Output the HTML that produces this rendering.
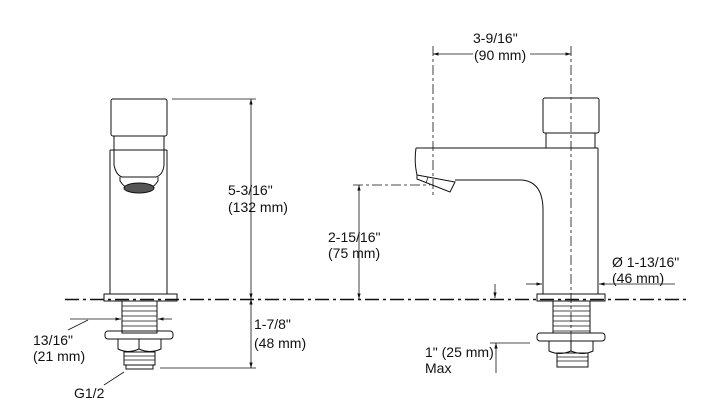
<!DOCTYPE html>
<html><head><meta charset="utf-8"><style>
html,body{margin:0;padding:0;background:#fff;}
svg{display:block;}
text{font-family:"Liberation Sans",Arial,sans-serif;font-size:14px;fill:#111;}
</style></head><body>
<svg width="722" height="409" viewBox="0 0 722 409" xmlns="http://www.w3.org/2000/svg">
<defs>
<marker id="a" viewBox="0 0 10 10" refX="10" refY="5" markerWidth="7" markerHeight="7" orient="auto-start-reverse"><path d="M0,2 L10,5 L0,8 z" fill="#111"/></marker>
</defs>
<g stroke="#111" fill="none" stroke-width="1">
<line x1="65" y1="299.5" x2="690" y2="299.5" stroke-width="1.6" stroke-dasharray="14,4,3,4"/>

<!-- LEFT FAUCET -->
<rect x="111" y="99" width="56" height="37" rx="2"/>
<rect x="114" y="136" width="50" height="14"/>
<line x1="110" y1="150" x2="110" y2="294"/>
<line x1="167" y1="150" x2="167" y2="294"/>
<path d="M110,150 L114,150 M164,150 L167,150"/>
<path d="M114,150 L114,165 Q116,175 122,177 L156,177 Q163,175 164,165 L164,150"/>
<path d="M120,177 L120,181 Q124,187 128,188 M158,177 L158,181 Q154,187 150,188"/>
<ellipse cx="139" cy="188" rx="15" ry="5" fill="#555"/>
<rect x="104" y="294" width="73" height="7"/>
<rect x="122" y="301" width="35" height="32"/>
<g stroke-width="0.7"><line x1="122" y1="306" x2="157" y2="306"/><line x1="122" y1="311" x2="157" y2="311"/><line x1="122" y1="316" x2="157" y2="316"/><line x1="122" y1="321" x2="157" y2="321"/><line x1="122" y1="326" x2="157" y2="326"/><line x1="122" y1="331" x2="157" y2="331"/></g>
<rect x="105" y="331" width="68" height="8" rx="3"/>
<path d="M118,339 L118,349 Q128,354 139,349 Q150,354 161,349 L161,339"/>
<line x1="139" y1="339" x2="139" y2="349"/>
<rect x="124" y="352" width="31" height="13"/>
<g stroke-width="0.7"><line x1="124" y1="356" x2="155" y2="356"/><line x1="124" y1="360" x2="155" y2="360"/></g>
<rect x="126" y="365" width="27" height="4"/>
<line x1="172" y1="99" x2="256" y2="99" stroke-width="0.8"/>
<line x1="160" y1="368" x2="256" y2="368" stroke-width="0.8"/>
<line x1="251" y1="99" x2="251" y2="299" stroke-width="0.8" marker-start="url(#a)" marker-end="url(#a)"/>
<line x1="251" y1="299" x2="251" y2="368" stroke-width="0.8" marker-start="url(#a)" marker-end="url(#a)"/>
<line x1="70" y1="319" x2="121" y2="319" stroke-width="0.8" marker-end="url(#a)"/>
<line x1="172" y1="319" x2="158" y2="319" stroke-width="0.8" marker-end="url(#a)"/>
<line x1="68" y1="330" x2="88" y2="320" stroke-width="0.8"/>
<line x1="104" y1="385" x2="124" y2="372" stroke-width="0.8"/>

<!-- RIGHT FAUCET -->
<rect x="543" y="98" width="56" height="35" rx="2"/>
<rect x="546" y="133" width="49" height="15"/>
<path d="M416,148 L598,148 M416,148 Q414,162 417,175"/>
<path d="M417,175 L455,182 L450,192 L417,179 Z"/>
<line x1="428" y1="177" x2="426" y2="183" stroke-width="0.7"/>
<path d="M455,180 L522,180 Q543,182 543,210 L543,294"/>
<line x1="598" y1="148" x2="598" y2="294"/>
<rect x="537" y="294" width="68" height="7"/>
<rect x="553" y="301" width="37" height="32"/>
<g stroke-width="0.7"><line x1="553" y1="306" x2="590" y2="306"/><line x1="553" y1="311" x2="590" y2="311"/><line x1="553" y1="316" x2="590" y2="316"/><line x1="553" y1="321" x2="590" y2="321"/><line x1="553" y1="326" x2="590" y2="326"/><line x1="553" y1="331" x2="590" y2="331"/></g>
<rect x="537" y="333" width="68" height="8" rx="3"/>
<path d="M549,341 L549,351 Q559,356 571,351 Q583,356 593,351 L593,341"/>
<line x1="571" y1="341" x2="571" y2="351"/>
<rect x="557" y="353" width="31" height="14"/>
<g stroke-width="0.7"><line x1="557" y1="357" x2="588" y2="357"/><line x1="557" y1="361" x2="588" y2="361"/></g>
<line x1="433" y1="46" x2="433" y2="196" stroke-width="0.8" stroke-dasharray="10,3,3,3"/>
<line x1="571" y1="46" x2="571" y2="345" stroke-width="0.8" stroke-dasharray="10,3,3,3"/>
<line x1="433" y1="54" x2="473" y2="54" stroke-width="0.8" marker-start="url(#a)"/>
<line x1="530" y1="54" x2="571" y2="54" stroke-width="0.8" marker-end="url(#a)"/>
<line x1="353" y1="185" x2="430" y2="185" stroke-width="0.8" stroke-dasharray="10,3,3,3"/>
<line x1="359" y1="185" x2="359" y2="299" stroke-width="0.8" marker-start="url(#a)" marker-end="url(#a)"/>
<line x1="495" y1="284" x2="495" y2="298" stroke-width="0.8" marker-end="url(#a)"/>
<line x1="490" y1="343" x2="530" y2="343" stroke-width="0.8"/>
<line x1="496" y1="343" x2="496" y2="373" stroke-width="0.8" marker-start="url(#a)"/>
<line x1="526" y1="284" x2="542" y2="284" stroke-width="0.8" marker-end="url(#a)"/>
<line x1="675" y1="284" x2="599" y2="284" stroke-width="0.8" marker-end="url(#a)"/>
</g>
<text x="228" y="195">5-3/16"</text>
<text x="228" y="212">(132 mm)</text>
<text x="254" y="329">1-7/8"</text>
<text x="254" y="348">(48 mm)</text>
<text x="33" y="345">13/16"</text>
<text x="33" y="361">(21 mm)</text>
<text x="74" y="398">G1/2</text>
<text x="473" y="43">3-9/16"</text>
<text x="474" y="60">(90 mm)</text>
<text x="328" y="242">2-15/16"</text>
<text x="328" y="258">(75 mm)</text>
<text x="612" y="267">Ø 1-13/16"</text>
<text x="612" y="283">(46 mm)</text>
<text x="425" y="357">1" (25 mm)</text>
<text x="425" y="373">Max</text>
</svg>
</body></html>
